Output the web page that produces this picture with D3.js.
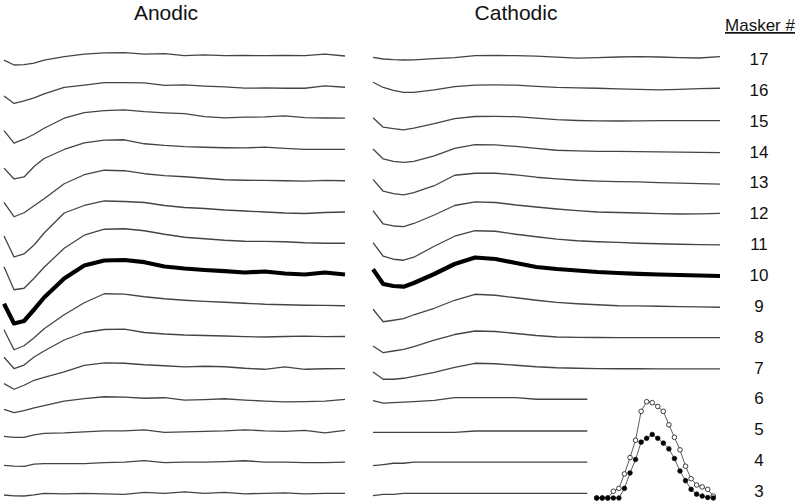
<!DOCTYPE html>
<html lang="en">
<head>
  <meta charset="UTF-8">
  <title>ECAP masker traces</title>
  <script src="https://d3js.org/d3.v7.min.js"></script>
  <style>
    body { margin: 0; background: #fff; }
    text { font-family: "Liberation Sans", Arial, sans-serif; fill: #111; }
  </style>
</head>
<body>

<script>
// masker electrodes, top row to bottom row
const maskers = [17, 16, 15, 14, 13, 12, 11, 10, 9, 8, 7, 6, 5, 4, 3];
const probeMasker = 10;

// sweep sample times (ms)
const sweepMs = [0, 0.05, 0.1, 0.15, 0.2, 0.3, 0.4, 0.5, 0.6, 0.7, 0.8, 0.9, 1.0, 1.1, 1.2, 1.3, 1.4, 1.5, 1.6, 1.7];
const sweepShortMs = [0, 0.05, 0.1, 0.15, 0.2, 0.3, 0.4, 0.5, 0.6, 0.7, 0.8, 0.9, 1.0, 1.05];

// anodic responses (µV), one row per masker
const anodicUv = [
  [-45, -93, -90, -75, -45, -10, 15, 28, 30, 15, 20, 0, 8, 0, 3, 0, 2, 0, 15, -3],
  [-90, -165, -140, -110, -70, -5, 18, 43, 43, 40, 15, 20, 8, 0, -12, -10, -13, -13, 10, -3],
  [-124, -250, -210, -160, -100, 0, 55, 75, 83, 65, 53, 45, 15, 3, 10, 13, 23, 5, 2, 0],
  [-187, -295, -275, -170, -90, 0, 65, 93, 97, 57, 40, 28, 22, 17, 15, 23, 10, 0, 0, 0],
  [-217, -360, -320, -250, -180, -30, 60, 105, 100, 70, 52, 40, 25, 10, 5, 3, 0, -3, 3, 0],
  [-240, -450, -420, -330, -210, -10, 65, 110, 105, 95, 65, 45, 35, 20, 10, 0, -10, -15, -5, 0],
  [-234, -465, -450, -350, -240, -50, 80, 140, 145, 125, 90, 60, 45, 30, 20, 18, 15, 5, 0, 0],
  [-293, -490, -465, -350, -230, -40, 90, 140, 145, 123, 80, 60, 45, 33, 20, 30, 10, 0, 20, 0],
  [-240, -440, -400, -320, -230, -90, 30, 120, 117, 90, 70, 55, 43, 35, 25, 15, 10, 5, 3, 0],
  [-202, -315, -280, -200, -140, -30, 45, 75, 78, 45, 30, 20, 15, 10, 3, 0, 5, 8, 3, 5],
  [-153, -210, -170, -120, -90, -35, 30, 53, 50, 35, 25, 13, 20, 15, 0, -10, 13, -10, -5, -3],
  [-98, -130, -110, -83, -60, -15, 10, 28, 25, 13, 18, -5, 0, 8, -5, -15, -23, -20, -15, 2],
  [-55, -65, -65, -40, -25, -20, -10, 0, 0, 10, -15, -10, -5, 0, 10, 0, -5, 5, -20, 5],
  [-33, -40, -43, -20, -16, -16, -16, -5, 0, 15, -5, 0, 0, 5, 13, 0, 0, -5, -5, 0],
  [-17, -25, -27, -15, 0, -5, 0, -5, -10, 10, 0, 15, 0, 10, -5, 0, 5, -5, 0, 0]
];

// cathodic responses (µV); maskers 6..3 were recorded on the short sweep
const cathodicUv = [
  [-16, -33, -40, -43, -42, -30, -20, 0, 2, 0, -5, -15, -25, -20, -13, -10, -13, -20, -23, -10],
  [47, -5, -35, -55, -55, -30, 3, 18, 20, 18, 5, -5, -10, -13, -20, -25, -30, -25, -17, -13],
  [5, -90, -105, -117, -100, -55, -5, 17, 18, 15, 0, -15, -23, -27, -28, -27, -25, -25, -25, -25],
  [5, -95, -120, -130, -120, -65, 10, 48, 45, 30, 10, -8, -15, -20, -20, -22, -25, -27, -30, -32],
  [14, -105, -130, -142, -120, -50, 55, 75, 75, 58, 35, 18, 5, -3, -8, -12, -18, -23, -28, -33],
  [13, -120, -140, -147, -115, -30, 65, 102, 95, 70, 50, 30, 13, 0, -5, -10, -17, -20, -18, -13],
  [6, -130, -160, -170, -140, -30, 70, 125, 120, 90, 65, 42, 25, 15, 8, 0, -5, -10, -13, -17],
  [52, -95, -115, -122, -85, 5, 105, 170, 155, 115, 75, 55, 40, 25, 15, 7, 0, -5, -10, -15],
  [-35, -160, -145, -128, -90, -25, 55, 115, 105, 80, 55, 33, 20, 10, 0, -2, -5, -8, -12, -15],
  [-90, -157, -140, -123, -95, -30, 25, 60, 55, 35, 15, 0, -3, -5, -7, -7, -7, -7, -7, -7],
  [-37, -110, -110, -100, -80, -40, 10, 50, 45, 30, 15, 5, 0, -3, -5, -5, -7, -7, -7, -7],
  [-11, -35, -30, -26, -20, -8, 19, 19, 19, 19, 3, 3, 3, 3],
  [-15, -15, -15, -15, -15, -15, -15, -2, -2, -2, -2, -2, -2, -2],
  [-36, -25, -12, -12, 0, 0, 0, 0, 0, 0, 0, 0, 0, 0],
  [-24, -10, -10, 0, 0, 0, 0, 0, 0, 0, 0, 0, 0, 0]
];

// inset: normalised amplitude across electrodes
const electrodes = d3.range(1, 23);
const openPct = [0, 0, 0, 7, 10, 25, 42, 60, 90, 100, 99, 95, 90, 76, 63, 50, 33, 20, 13.5, 11.5, 9, 2];
const filledPct = [0, 0, 0, 0, 0, 10, 26, 40, 58, 62, 66, 62, 57, 51, 41, 28, 18, 9, 4, 2, 0.5, 0];

const width = 800, height = 504;

const svg = d3.select("body").append("svg")
    .attr("width", width)
    .attr("height", height);

const row = d3.scalePoint().domain(maskers).range([55.7, 493.3]);
const labelRow = d3.scalePoint().domain(maskers).range([59, 491]);
const amp = d3.scaleLinear().domain([0, 100]).range([0, -10]);   // µV -> px offset
const xA = d3.scaleLinear().domain([0, 1.7]).range([4, 345]);
const xC = d3.scaleLinear().domain([0, 1.7]).range([373, 720]);

function drawPanel(x, data) {
  svg.append("g")
      .attr("fill", "none")
      .attr("stroke-linejoin", "round")
    .selectAll("path")
    .data(data)
    .join("path")
      .attr("d", (vals, i) => {
        const m = maskers[i];
        const t = vals.length === sweepMs.length ? sweepMs : sweepShortMs;
        return d3.line()
            .x((v, j) => x(t[j]))
            .y(v => row(m) + amp(v))(vals);
      })
      .attr("stroke", (d, i) => maskers[i] === probeMasker ? "#000" : "#444")
      .attr("stroke-width", (d, i) => maskers[i] === probeMasker ? 4.2 : 1.3);
}

drawPanel(xA, anodicUv);
drawPanel(xC, cathodicUv);

// titles
svg.append("text").attr("x", 166).attr("y", 20)
    .attr("text-anchor", "middle").attr("font-size", 21).text("Anodic");
svg.append("text").attr("x", 516).attr("y", 20)
    .attr("text-anchor", "middle").attr("font-size", 21).text("Cathodic");

// masker labels
svg.append("text").attr("x", 760).attr("y", 31)
    .attr("text-anchor", "middle").attr("font-size", 17)
    .attr("text-decoration", "underline").text("Masker #");

svg.append("g")
  .selectAll("text")
  .data(maskers)
  .join("text")
    .attr("x", 759)
    .attr("y", d => labelRow(d))
    .attr("dy", "0.35em")
    .attr("text-anchor", "middle")
    .attr("font-size", 17)
    .text(d => d);

// inset
const xe = d3.scaleLinear().domain([1, 22]).range([596.7, 713.3]);
const ye = d3.scaleLinear().domain([0, 100]).range([498, 401.7]);
const inset = svg.append("g");

const series = [
  { vals: openPct, fill: "#fff" },
  { vals: filledPct, fill: "#000" }
];

inset.selectAll("path")
  .data(series)
  .join("path")
    .attr("fill", "none")
    .attr("stroke", "#333")
    .attr("stroke-width", 0.8)
    .attr("d", s => d3.line().x((v, i) => xe(electrodes[i])).y(v => ye(v))(s.vals));

series.forEach(s => {
  inset.append("g")
    .selectAll("circle")
    .data(s.vals)
    .join("circle")
      .attr("cx", (v, i) => xe(electrodes[i]))
      .attr("cy", v => ye(v))
      .attr("r", 2.3)
      .attr("fill", s.fill)
      .attr("stroke", "#111")
      .attr("stroke-width", 0.8);
});
</script>

</body>
</html>
